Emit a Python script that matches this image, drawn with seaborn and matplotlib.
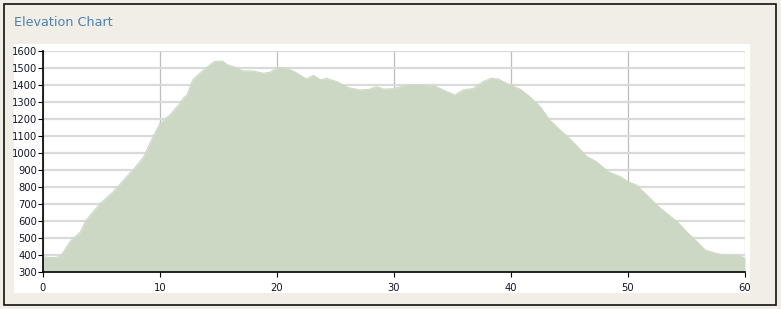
import matplotlib
matplotlib.use("Agg")
import matplotlib.pyplot as plt
import seaborn as sns
import pandas as pd
from matplotlib.patches import Rectangle

# Data
distance_km = [0.0, 0.5, 1.0, 1.5, 2.3, 3.2, 3.7, 4.9, 6.0, 7.4, 7.7, 8.6, 9.4, 10.0,
               10.85, 11.7, 12.1, 12.3, 12.8, 13.4, 14.6, 15.3, 15.8, 16.5, 17.0, 18.0,
               18.8, 19.4, 20.1, 20.8, 21.5, 22.5, 23.1, 23.7, 24.2, 25.1, 26.1, 27.1,
               27.9, 28.5, 29.1, 29.9, 31.1, 31.9, 32.8, 33.6, 34.5, 35.2, 35.9, 36.8,
               37.6, 38.3, 38.9, 39.9, 40.8, 41.6, 42.5, 43.3, 44.2, 45.0, 45.8, 46.5,
               47.3, 48.3, 49.3, 50.0, 50.7, 51.6, 52.45, 53.3, 54.2, 55.0, 55.9, 56.6,
               57.3, 58.1, 59.3, 60.0]
elevation_m = [390, 385, 385, 392, 478, 537, 606, 704, 772, 880, 900, 978, 1096, 1175,
               1224, 1292, 1331, 1340, 1430, 1469, 1537, 1541, 1518, 1502, 1484, 1482,
               1469, 1475, 1504, 1498, 1478, 1435, 1457, 1430, 1439, 1420, 1384, 1371,
               1375, 1390, 1376, 1378, 1400, 1400, 1396, 1390, 1361, 1341, 1371, 1380,
               1420, 1439, 1435, 1400, 1375, 1331, 1272, 1194, 1135, 1086, 1028, 978,
               949, 890, 862, 831, 812, 753, 694, 645, 596, 537, 478, 429,
               414, 400, 400, 382]
x_ticks = [0, 10, 20, 30, 40, 50, 60]
y_ticks = list(range(300, 1700, 100))
title_text = "Elevation Chart"

df = pd.DataFrame({"km": distance_km, "elev": elevation_m})

sns.set_theme(style="white")
plt.rcParams["font.family"] = ["DejaVu Sans"]

W, H = 781, 309
fig = plt.figure(figsize=(W / 100, H / 100), dpi=100)
fig.patch.set_facecolor("#F1EEE7")

# outer border and white panel (figure pixel coords)
def fr(x0, y0, x1, y1):
    return (x0 / W, 1 - y1 / H), (x1 - x0) / W, (y1 - y0) / H

xy, w, h = fr(3.5, 3.5, 775.5, 304.5)
fig.patches.append(Rectangle(xy, w, h, transform=fig.transFigure, facecolor="none",
                             edgecolor="#111111", linewidth=1.2, zorder=-2))
xy, w, h = fr(14, 44, 750, 293)
fig.patches.append(Rectangle(xy, w, h, transform=fig.transFigure, facecolor="white",
                             edgecolor="none", zorder=-2))

fig.text(14 / W, 1 - 23 / H, title_text, color="#4A82B3", fontsize=9.2,
         ha="left", va="center")

ax_l, ax_r, ax_t, ax_b = 43, 745, 51, 272
ax = fig.add_axes([ax_l / W, 1 - ax_b / H, (ax_r - ax_l) / W, (ax_b - ax_t) / H])
ax.set_facecolor("white")

fill_color = "#CDD8C4"
sns.lineplot(data=df, x="km", y="elev", ax=ax, color=fill_color, linewidth=0.8, zorder=3)
ax.fill_between(df["km"], df["elev"], 300, color=fill_color, linewidth=0, zorder=3)

ax.set_xlim(0, 60)
ax.set_ylim(300, 1600)
ax.set_xticks(x_ticks)
ax.set_yticks(y_ticks)
ax.set_xlabel("")
ax.set_ylabel("")

ax.set_axisbelow(True)
ax.yaxis.grid(True, color="#DADADA", linewidth=1.6)
ax.xaxis.grid(True, color="#BDBDBD", linewidth=0.9)

for s in ["top", "right"]:
    ax.spines[s].set_visible(False)
for s in ["left", "bottom"]:
    ax.spines[s].set_color("black")
    ax.spines[s].set_linewidth(1.2)
    ax.spines[s].set_zorder(5)

ax.tick_params(axis="both", which="major", direction="out", length=3.5, width=0.8,
               color="black", labelsize=7.2, labelcolor="#151530")
ax.tick_params(axis="y", pad=0.5)
ax.tick_params(axis="x", pad=4.5)
ax.tick_params(left=True, bottom=True)

fig.savefig("out.png", dpi=100, facecolor=fig.get_facecolor())
